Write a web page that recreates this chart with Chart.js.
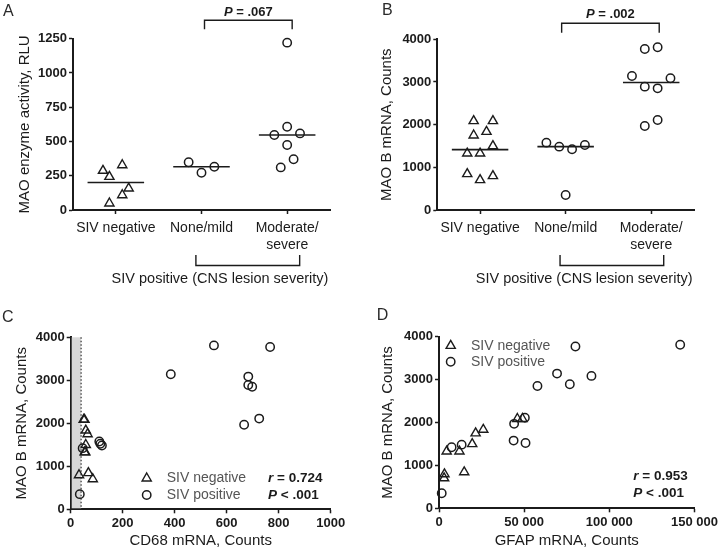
<!DOCTYPE html>
<html lang="en">

<head>
    <meta charset="UTF-8" />
    <title>MAO activity and MAO B mRNA in SIV infection</title>
    <script src="https://cdn.jsdelivr.net/npm/chart.js"></script>
    <style>
        body {
            margin: 0;
            background-color: #fff;
        }

        #figure {
            position: relative;
            width: 720px;
            height: 555px;
            overflow: hidden;
        }

        canvas {
            position: absolute;
        }
    </style>
</head>

<body>
    <div id="figure">
        <canvas id="chartA" width="360" height="292" style="left:0;top:0"></canvas>
        <canvas id="chartB" width="360" height="292" style="left:360px;top:0"></canvas>
        <canvas id="chartC" width="360" height="275" style="left:0;top:280px"></canvas>
        <canvas id="chartD" width="360" height="275" style="left:360px;top:280px"></canvas>
    </div>

    <script>
        // column categories
        const groups = ['SIV negative', 'None/mild', ['Moderate/', 'severe']];
        const positiveLabel = 'SIV positive (CNS lesion severity)';

        // A - MAO enzyme activity, RLU
        const actNeg = [287, 243, 328, 158, 109, 49];
        const actMild = [348, 272, 316];
        const actSevere = [1221, 608, 547, 559, 474, 370, 311];
        const pActivity = '.067';

        // B - MAO B mRNA, counts (same animals are reused in C and D)
        const maobNeg = [2086, 2086, 1750, 1835, 1500, 1328, 1328, 844, 703, 797];
        const maobMild = [1578, 1484, 1422, 1523, 352];
        const maobSevere = [3773, 3812, 3140, 3086, 2890, 2851, 1968, 2109];
        const pMaob = '.002';

        // slot of each dot inside its column (how the dots were spread sideways)
        const slotActNeg = [-2, -1, 1, 2, 1, -1];
        const slotActMild = [-2, 0, 2];
        const slotActSevere = [0, 0, -2, 2, 0, 1, -1];
        const slotMaobNeg = [-1, 2, -1, 1, 2, -2, 0, -2, 0, 2];
        const slotMaobMild = [-3, -1, 1, 3, 0];
        const slotMaobSevere = [-1, 1, -3, 3, -1, 1, -1, 1];

        // C - CD68 mRNA counts, same order as the MAO B arrays
        const cd68Neg = [50, 53, 65, 58, 58, 54, 56, 68, 85, 32];
        const cd68Pos = [110, 120, 46, 114, 35, 767, 551, 385, 683, 683, 698, 667, 725];
        const cd68Cutoff = 40;
        const rCd68 = '0.724';

        // D - GFAP mRNA counts, same order as the MAO B arrays
        const gfapNeg = [46000, 49000, 21500, 26000, 19500, 4500, 12000, 14800, 3000, 3200];
        const gfapPos = [43800, 13300, 7400, 50800, 1600, 80100, 141600, 69300, 89500, 76800, 57800, 44100, 50400];
        const rGfap = '0.953';
        const pCorr = '< .001';

        const maobPos = maobMild.concat(maobSevere);

        const FONT = "'Liberation Sans', Arial, Helvetica, sans-serif";
        const INK = '#1b1b1b';
        const SLOT = 0.075;
        const HALF_MEDIAN = 0.33;

        const triMarker = { pointStyle: 'triangle', pointRadius: 5.3, pointBorderWidth: 1.4 };
        const circMarker = { pointStyle: 'circle', pointRadius: 4.2, pointBorderWidth: 1.5 };

        function median(arr) {
            const s = [...arr].sort((a, b) => a - b);
            const n = s.length;
            return n % 2 ? s[(n - 1) / 2] : (s[n / 2 - 1] + s[n / 2]) / 2;
        }

        function columnData(values, slots, col) {
            return values.map((v, i) => ({ x: col + slots[i] * SLOT, y: v }));
        }

        function pairData(xs, ys) {
            return xs.map((x, i) => ({ x: x, y: ys[i] }));
        }

        function dots(data, marker) {
            return Object.assign({
                data: data,
                borderColor: INK,
                backgroundColor: 'rgba(0,0,0,0)',
                pointBorderColor: INK,
                pointBackgroundColor: 'rgba(0,0,0,0)',
                pointHoverRadius: marker.pointRadius,
                clip: false,
            }, marker);
        }

        function medianLine(values, col) {
            const m = median(values);
            return {
                data: [{ x: col - HALF_MEDIAN, y: m }, { x: col + HALF_MEDIAN, y: m }],
                showLine: true,
                borderColor: INK,
                borderWidth: 1.6,
                pointRadius: 0,
                clip: false,
            };
        }

        const plain = (v) => String(v);
        const spaced = (v) => String(v).replace(/\B(?=(\d{3})+(?!\d))/g, ' ');

        const tickGrid = { drawOnChartArea: false, tickLength: 4, tickWidth: 1.5, tickColor: INK };
        const axisBorder = { color: INK, width: 2 };
        const numFont = { family: FONT, size: 13, weight: 'bold' };

        function yAxis(max, step, title, width, titlePad) {
            return {
                min: 0,
                max: max,
                afterFit(s) { s.width = width; },
                ticks: { stepSize: step, color: INK, font: numFont, padding: 2, callback: plain },
                grid: tickGrid,
                border: axisBorder,
                title: {
                    display: true, text: title, color: INK,
                    font: { family: FONT, size: 15 },
                    padding: { top: titlePad, bottom: titlePad },
                },
            };
        }

        function groupAxis(height) {
            return {
                type: 'linear',
                min: -0.5,
                max: 2.5,
                afterBuildTicks(s) { s.ticks = groups.map((g, i) => ({ value: i })); },
                afterFit(s) { s.height = height; },
                ticks: {
                    autoSkip: false, maxRotation: 0, color: INK, padding: 6,
                    font: { family: FONT, size: 14 },
                    callback: (v) => groups[Math.round(v)],
                },
                grid: tickGrid,
                border: axisBorder,
            };
        }

        function numberAxis(max, step, title, height, fmt) {
            return {
                type: 'linear',
                min: 0,
                max: max,
                afterFit(s) { s.height = height; },
                ticks: { stepSize: step, autoSkip: false, maxRotation: 0, color: INK, font: numFont, padding: 2, callback: fmt },
                grid: tickGrid,
                border: axisBorder,
                title: {
                    display: true, text: title, color: INK,
                    font: { family: FONT, size: 15 },
                    padding: { top: 5, bottom: 5 },
                },
            };
        }

        // draw a string made of parts with different fonts
        function drawParts(ctx, parts, x, y, align) {
            let total = 0;
            parts.forEach(p => { ctx.font = p[1]; total += ctx.measureText(p[0]).width; });
            let cx = align === 'center' ? x - total / 2 : x;
            ctx.textAlign = 'left';
            parts.forEach(p => {
                ctx.font = p[1];
                ctx.fillText(p[0], cx, y);
                cx += ctx.measureText(p[0]).width;
            });
        }

        function drawMarker(ctx, style, x, y) {
            ctx.beginPath();
            if (style === 'triangle') {
                const r = triMarker.pointRadius;
                let rad = 0;
                ctx.moveTo(x + Math.sin(rad) * r, y - Math.cos(rad) * r);
                rad += Math.PI * 2 / 3;
                ctx.lineTo(x + Math.sin(rad) * r, y - Math.cos(rad) * r);
                rad += Math.PI * 2 / 3;
                ctx.lineTo(x + Math.sin(rad) * r, y - Math.cos(rad) * r);
                ctx.closePath();
                ctx.lineWidth = triMarker.pointBorderWidth;
            } else {
                ctx.arc(x, y, circMarker.pointRadius, 0, Math.PI * 2);
                ctx.lineWidth = circMarker.pointBorderWidth;
            }
            ctx.stroke();
        }

        function panelLetter(ctx, letter, x, y) {
            ctx.fillStyle = '#2a2a2a';
            ctx.font = '16px ' + FONT;
            ctx.textAlign = 'left';
            ctx.textBaseline = 'top';
            ctx.fillText(letter, x, y);
        }

        // letter, P bracket over the two SIV positive columns, group bracket below
        function columnPanelPlugin(o) {
            return {
                id: 'columnNotes' + o.letter,
                afterDraw(chart) {
                    const { ctx, chartArea, scales: { x } } = chart;
                    const c1 = x.getPixelForValue(1);
                    const c2 = x.getPixelForValue(2);
                    ctx.save();
                    panelLetter(ctx, o.letter, o.letterX, o.letterY);

                    ctx.strokeStyle = INK;
                    ctx.lineWidth = 1.4;
                    const barY = chartArea.top - o.barUp;
                    const legY = chartArea.top - o.legUp;
                    const b1 = c1 + o.topL, b2 = c2 + o.topR;
                    ctx.beginPath();
                    ctx.moveTo(b1, legY); ctx.lineTo(b1, barY); ctx.lineTo(b2, barY); ctx.lineTo(b2, legY);
                    ctx.stroke();

                    ctx.fillStyle = INK;
                    ctx.textBaseline = 'middle';
                    drawParts(ctx, [['P', 'italic bold 13px ' + FONT], [' = ' + o.p, 'bold 13px ' + FONT]],
                        (b1 + b2) / 2, barY - o.pUp, 'center');

                    const g1 = c1 - 5.6, g2 = c2 + 12.5;
                    ctx.beginPath();
                    ctx.moveTo(g1, 255); ctx.lineTo(g1, 265.5); ctx.lineTo(g2, 265.5); ctx.lineTo(g2, 255);
                    ctx.stroke();
                    ctx.font = '14.5px ' + FONT;
                    ctx.textAlign = 'center';
                    ctx.fillText(positiveLabel, c1 + 18.5, 278.5);
                    ctx.restore();
                },
            };
        }

        function legendAndStats(ctx, area, o) {
            ctx.save();
            ctx.strokeStyle = INK;
            drawMarker(ctx, 'triangle', area.left + o.mx, o.y1);
            drawMarker(ctx, 'circle', area.left + o.mx, o.y2);
            ctx.fillStyle = '#555';
            ctx.font = '14px ' + FONT;
            ctx.textAlign = 'left';
            ctx.textBaseline = 'middle';
            ctx.fillText('SIV negative', area.left + o.tx, o.y1);
            ctx.fillText('SIV positive', area.left + o.tx, o.y2);
            ctx.fillStyle = INK;
            drawParts(ctx, [['r', 'italic bold 13.5px ' + FONT], [' = ' + o.r, 'bold 13.5px ' + FONT]], area.left + o.sx, o.s1, 'left');
            drawParts(ctx, [['P', 'italic bold 13.5px ' + FONT], [' ' + pCorr, 'bold 13.5px ' + FONT]], area.left + o.sx, o.s2, 'left');
            ctx.restore();
        }

        const common = {
            responsive: false,
            animation: false,
            events: [],
            plugins: { legend: { display: false }, tooltip: { enabled: false } },
        };

        // A
        new Chart(document.getElementById('chartA'), {
            type: 'scatter',
            data: {
                datasets: [
                    dots(columnData(actNeg, slotActNeg, 0), triMarker),
                    dots(columnData(actMild, slotActMild, 1), circMarker),
                    dots(columnData(actSevere, slotActSevere, 2), circMarker),
                    medianLine(actNeg, 0),
                    medianLine(actMild, 1),
                    medianLine(actSevere, 2),
                ],
            },
            options: Object.assign({}, common, {
                layout: { padding: { left: 0, top: 38.7, right: 30, bottom: 0 } },
                scales: {
                    x: groupAxis(82),
                    y: yAxis(1250, 250, 'MAO enzyme activity, RLU', 73, 16),
                },
            }),
            plugins: [columnPanelPlugin({ letter: 'A', letterX: 3, letterY: 4, p: pActivity, barUp: 18.5, legUp: 9.5, topL: 3, topR: 5, pUp: 8 })],
        });

        // B
        new Chart(document.getElementById('chartB'), {
            type: 'scatter',
            data: {
                datasets: [
                    dots(columnData(maobNeg, slotMaobNeg, 0), triMarker),
                    dots(columnData(maobMild, slotMaobMild, 1), circMarker),
                    dots(columnData(maobSevere, slotMaobSevere, 2), circMarker),
                    medianLine(maobNeg, 0),
                    medianLine(maobMild, 1),
                    medianLine(maobSevere, 2),
                ],
            },
            options: Object.assign({}, common, {
                layout: { padding: { left: 0, top: 39.3, right: 26, bottom: 0 } },
                scales: {
                    x: groupAxis(82),
                    y: yAxis(4000, 1000, 'MAO B mRNA, Counts', 77.3, 18),
                },
            }),
            plugins: [columnPanelPlugin({ letter: 'B', letterX: 22, letterY: 3, p: pMaob, barUp: 16, legUp: 6.6, topL: -4, topR: 8, pUp: 9.3 })],
        });

        // C
        new Chart(document.getElementById('chartC'), {
            type: 'scatter',
            data: {
                datasets: [
                    dots(pairData(cd68Neg, maobNeg), triMarker),
                    dots(pairData(cd68Pos, maobPos), circMarker),
                ],
            },
            options: Object.assign({}, common, {
                layout: { padding: { left: 0, top: 57.3, right: 29.3, bottom: 0 } },
                scales: {
                    x: numberAxis(1000, 200, 'CD68 mRNA, Counts', 45.7, plain),
                    y: yAxis(4000, 1000, 'MAO B mRNA, Counts', 70.7, 12.7),
                },
            }),
            plugins: [{
                id: 'notesC',
                beforeDatasetsDraw(chart) {
                    const { ctx, scales: { x, y } } = chart;
                    const top = y.getPixelForValue(4000), bottom = y.getPixelForValue(0);
                    const x0 = x.getPixelForValue(0) + 1, xc = x.getPixelForValue(cd68Cutoff);
                    ctx.save();
                    ctx.fillStyle = '#d8d8d8';
                    ctx.fillRect(x0, top, xc - x0, bottom - top - 1);
                    ctx.strokeStyle = '#333';
                    ctx.lineWidth = 1.2;
                    ctx.setLineDash([1.5, 2]);
                    ctx.beginPath();
                    ctx.moveTo(xc, top); ctx.lineTo(xc, bottom);
                    ctx.stroke();
                    ctx.restore();
                },
                afterDraw(chart) {
                    const { ctx, chartArea } = chart;
                    ctx.save();
                    panelLetter(ctx, 'C', 2, 30);
                    ctx.restore();
                    legendAndStats(ctx, chartArea, {
                        mx: 76, tx: 96, sx: 197.3,
                        y1: chartArea.bottom - 31, y2: chartArea.bottom - 14.3,
                        s1: chartArea.bottom - 31, s2: chartArea.bottom - 14.3, r: rCd68,
                    });
                },
            }],
        });

        // D
        new Chart(document.getElementById('chartD'), {
            type: 'scatter',
            data: {
                datasets: [
                    dots(pairData(gfapNeg, maobNeg), triMarker),
                    dots(pairData(gfapPos, maobPos), circMarker),
                ],
            },
            options: Object.assign({}, common, {
                layout: { padding: { left: 0, top: 56.7, right: 25, bottom: 0 } },
                scales: {
                    x: numberAxis(150000, 50000, 'GFAP mRNA, Counts', 46.7, spaced),
                    y: yAxis(4000, 1000, 'MAO B mRNA, Counts', 79, 19.3),
                },
            }),
            plugins: [{
                id: 'notesD',
                afterDraw(chart) {
                    const { ctx, chartArea } = chart;
                    ctx.save();
                    panelLetter(ctx, 'D', 16.7, 28);
                    ctx.restore();
                    legendAndStats(ctx, chartArea, {
                        mx: 11.7, tx: 32, sx: 194.3,
                        y1: chartArea.top + 9, y2: chartArea.top + 25,
                        s1: chartArea.bottom - 32.3, s2: chartArea.bottom - 15, r: rGfap,
                    });
                },
            }],
        });
    </script>
</body>

</html>
